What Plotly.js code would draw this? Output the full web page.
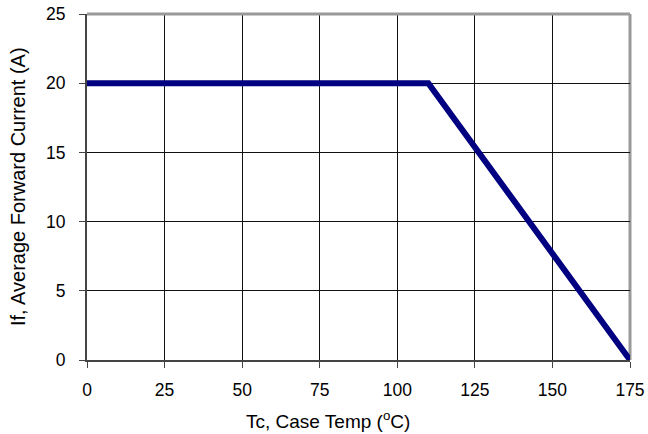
<!DOCTYPE html>
<html>
<head>
<meta charset="utf-8">
<script src="https://cdn.plot.ly/plotly-3.0.1.min.js"></script>
<style>html,body{margin:0;padding:0;background:#fff;}#chart{width:648px;height:434px;}</style>
</head>
<body>
<div id="chart"></div>
<script>
// Data
const caseTemp = [0, 110, 175];
const forwardCurrent = [20, 20, 0];
const xTicks = [0, 25, 50, 75, 100, 125, 150, 175];
const yTicks = [0, 5, 10, 15, 20, 25];
const xTitle = 'Tc, Case Temp (<sup>o</sup>C)';
const yTitle = 'If, Average Forward Current (A)';

const fam = 'Liberation Sans, Arial, sans-serif';
const tickFont = {family: fam, size: 17.5, color: '#000'};

const trace = {
  x: caseTemp,
  y: forwardCurrent,
  mode: 'lines',
  line: {color: '#000080', width: 6},
  hoverinfo: 'skip'
};

const layout = {
  width: 648, height: 434,
  margin: {l: 87, r: 18, t: 14, b: 74},
  paper_bgcolor: '#fff', plot_bgcolor: '#fff',
  showlegend: false,
  font: tickFont,
  xaxis: {
    range: [0, 175], tickvals: xTicks, ticktext: xTicks.map(String),
    showgrid: true, gridcolor: '#111', gridwidth: 1,
    showline: true, linecolor: '#444', linewidth: 2,
    ticks: 'outside', ticklen: 6, tickcolor: '#444', tickwidth: 1,
    zeroline: false, tickfont: tickFont, ticklabelstandoff: 7
  },
  yaxis: {
    range: [0, 25], tickvals: yTicks, ticktext: yTicks.map(String),
    showgrid: true, gridcolor: '#111', gridwidth: 1,
    showline: true, linecolor: '#444', linewidth: 2,
    ticks: 'outside', ticklen: 6, tickcolor: '#444', tickwidth: 1,
    zeroline: false, tickfont: tickFont, ticklabelstandoff: 10
  },
  annotations: [
    {text: xTitle, xref: 'paper', yref: 'paper', x: 0.444, y: -0.172, xanchor: 'center', yanchor: 'middle',
     showarrow: false, font: {family: fam, size: 19, color: '#000'}},
    {text: yTitle, xref: 'paper', yref: 'paper', x: -0.127, y: 0.5, xanchor: 'center', yanchor: 'middle',
     textangle: -90, showarrow: false, font: {family: fam, size: 20, color: '#000'}}
  ],
  shapes: [
    {type: 'line', xref: 'paper', yref: 'paper', x0: 0, x1: 1, y0: 1, y1: 1, line: {color: '#999', width: 3}, layer: 'above'},
    {type: 'line', xref: 'paper', yref: 'paper', x0: 1, x1: 1, y0: 0, y1: 1, line: {color: '#999', width: 3}, layer: 'below'}
  ]
};

Plotly.newPlot('chart', [trace], layout, {displayModeBar: false, staticPlot: true});
</script>
</body>
</html>
